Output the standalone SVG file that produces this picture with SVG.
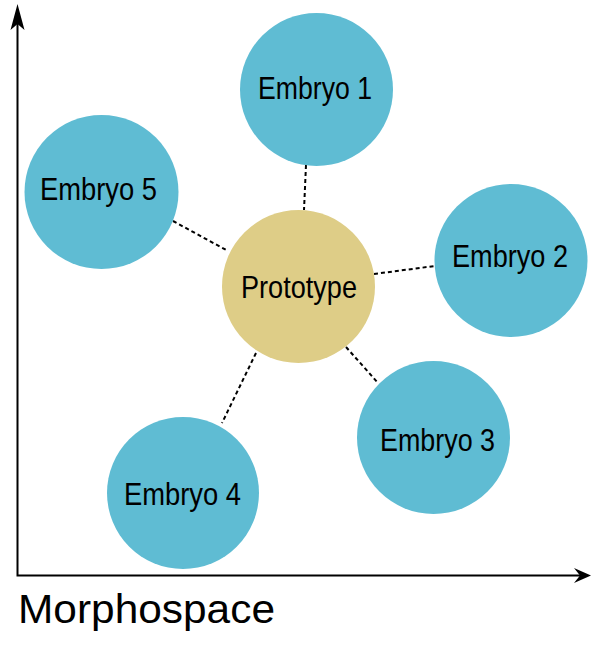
<svg xmlns="http://www.w3.org/2000/svg" width="591" height="648" viewBox="0 0 591 648">
<style>
.emb{fill:#5fbcd3}
.proto{fill:#decd87}
.lbl{font-family:"Liberation Sans Narrow","Liberation Sans",Arial,sans-serif;font-size:32px;fill:#000}
.conn{stroke:#000;stroke-width:2;stroke-dasharray:4,3;fill:none}
.axis{stroke:#000;stroke-width:2;fill:none}
</style>
<rect width="591" height="648" fill="#fff"/>
<g id="axes">
<path class="axis" d="M17.5,22 V575.5 H580"/>
<path d="M17.5,4 L24.5,30 L17.5,24 L10.5,30 Z" fill="#000"/>
<path d="M591,575.5 L574,583 L580,575.5 L574,568 Z" fill="#000"/>
</g>
<g id="connectors">
<line class="conn" x1="306" y1="165" x2="304" y2="210"/>
<line class="conn" x1="173" y1="221" x2="228" y2="251"/>
<line class="conn" x1="374" y1="274" x2="435" y2="266"/>
<line class="conn" x1="346" y1="347" x2="378" y2="383"/>
<line class="conn" x1="256" y1="353" x2="222" y2="423"/>
</g>
<g id="prototype">
<circle class="proto" cx="298.5" cy="286.5" r="76.5"/>
<text class="lbl" x="299" y="298" text-anchor="middle" textLength="116" lengthAdjust="spacingAndGlyphs">Prototype</text>
</g>
<g id="embryo1">
<circle class="emb" cx="316.5" cy="89.5" r="76.5"/>
<text class="lbl" x="315" y="99.3" text-anchor="middle" textLength="114" lengthAdjust="spacingAndGlyphs">Embryo 1</text>
</g>
<g id="embryo2">
<circle class="emb" cx="511" cy="260.5" r="76.5"/>
<text class="lbl" x="510" y="267" text-anchor="middle" textLength="116" lengthAdjust="spacingAndGlyphs">Embryo 2</text>
</g>
<g id="embryo3">
<circle class="emb" cx="433.5" cy="437.5" r="76.5"/>
<text class="lbl" x="437.5" y="451" text-anchor="middle" textLength="115" lengthAdjust="spacingAndGlyphs">Embryo 3</text>
</g>
<g id="embryo4">
<circle class="emb" cx="183" cy="493" r="76"/>
<text class="lbl" x="182.5" y="505" text-anchor="middle" textLength="117" lengthAdjust="spacingAndGlyphs">Embryo 4</text>
</g>
<g id="embryo5">
<circle class="emb" cx="101.5" cy="192" r="77"/>
<text class="lbl" x="98.5" y="200" text-anchor="middle" textLength="117" lengthAdjust="spacingAndGlyphs">Embryo 5</text>
</g>
<text x="18" y="623" font-family="'Liberation Sans',Arial,sans-serif" font-size="41" textLength="257" lengthAdjust="spacingAndGlyphs">Morphospace</text>
</svg>
